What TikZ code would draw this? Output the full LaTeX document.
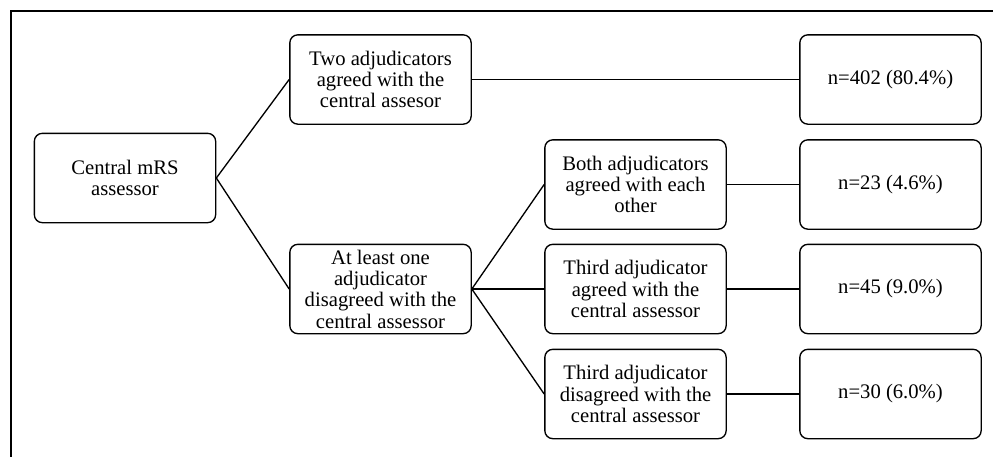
\documentclass[tikz,border=0pt]{standalone}
\usepackage{fontspec}
\setmainfont{Liberation Serif}
\usepackage{tikz}
\usetikzlibrary{calc}

\begin{document}
\begin{tikzpicture}[x=0.75pt,y=-0.75pt,
    box/.style={draw, line width=1pt, rounded corners=6pt, minimum width=136pt, minimum height=67pt, align=center, inner sep=2pt, font=\fontsize{15.5}{16}\selectfont},
    link/.style={line width=1pt}]
        %FRAME
        \useasboundingbox (0,0) rectangle (993,457);
        \coordinate (F1) at (11,457);
        \coordinate (F2) at (11,11);
        \coordinate (F3) at (993,11);
        \draw[line width=1.5pt] (F1) -- (F2) -- (F3);
        %BOXES
        \node[box] (central) at (125,178) {Central mRS\\assessor};
        \node[box] (agree) at (380.5,79.5) {Two adjudicators\\agreed with the\\central assesor};
        \node[box] (disagree) at (380.5,289) {At least one\\adjudicator\\disagreed with the\\central assessor};
        \node[box] (both) at (635.5,184.5) {Both adjudicators\\agreed with each\\other};
        \node[box] (thirdagree) at (635.5,289) {Third adjudicator\\agreed with the\\central assessor};
        \node[box] (thirddis) at (635.5,394) {Third adjudicator\\disagreed with the\\central assessor};
        \node[box] (nA) at (890.5,79.5) {n=402 (80.4\%)};
        \node[box] (nB) at (890.5,184.5) {n=23 (4.6\%)};
        \node[box] (nC) at (890.5,289) {n=45 (9.0\%)};
        \node[box] (nD) at (890.5,394) {n=30 (6.0\%)};
        %LINES
        \draw[link] (central.east) -- (agree.west);
        \draw[link] (central.east) -- (disagree.west);
        \draw[link] (disagree.east) -- (both.west);
        \draw[link] (disagree.east) -- (thirdagree.west);
        \draw[link] (disagree.east) -- (thirddis.west);
        \draw[link] (agree.east) -- (nA.west);
        \draw[link] (both.east) -- (nB.west);
        \draw[link] (thirdagree.east) -- (nC.west);
        \draw[link] (thirddis.east) -- (nD.west);
\end{tikzpicture}
\end{document}
